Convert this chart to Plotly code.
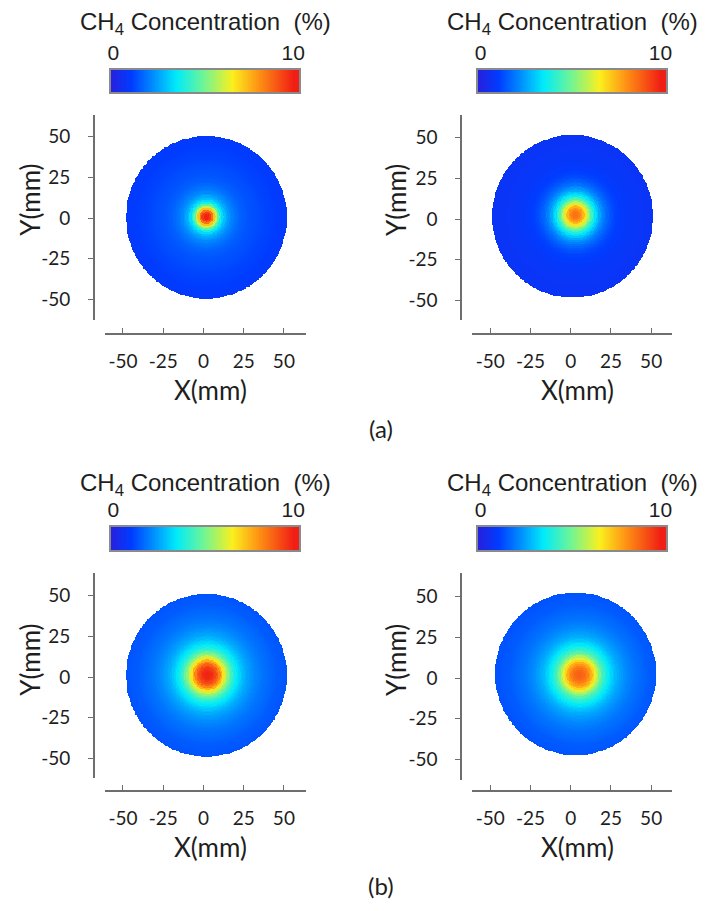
import numpy as np
import plotly.graph_objects as go

# ---------------------------------------------------------------
# CH4 concentration (%) along the radius from the jet axis,
# one value every 1.25 mm (r = 0 ... 50 mm), for the four cases
# ---------------------------------------------------------------
RADIUS_STEP_MM = 1.25

CONC_A_LEFT = [10.0, 9.9, 9.5, 8.6, 7.3, 6.0, 4.8, 3.9, 3.3, 2.9, 2.6,
               2.35, 2.15, 2.0, 1.85, 1.75, 1.65, 1.55, 1.5, 1.45, 1.4,
               1.35, 1.32, 1.3, 1.27, 1.24, 1.21, 1.18, 1.15, 1.12, 1.1,
               1.08, 1.06, 1.04, 1.02, 1.0, 0.98, 0.96, 0.94, 0.92, 0.9]
CONC_A_RIGHT = [8.6, 8.6, 8.4, 8.0, 7.5, 6.8, 6.0, 5.2, 4.5, 3.9, 3.4,
                3.0, 2.6, 2.3, 2.0, 1.8, 1.6, 1.45, 1.3, 1.2, 1.1,
                1.05, 1.0, 0.95, 0.9, 0.88, 0.85, 0.82, 0.8, 0.8, 0.8,
                0.78, 0.75, 0.75, 0.75, 0.72, 0.7, 0.7, 0.7, 0.7, 0.7]
CONC_B_LEFT = [9.9, 9.9, 9.8, 9.6, 9.3, 8.9, 8.3, 7.6, 6.8, 6.1, 5.4,
               4.9, 4.4, 4.0, 3.7, 3.45, 3.2, 3.0, 2.8, 2.65, 2.5,
               2.4, 2.3, 2.2, 2.1, 2.02, 1.95, 1.87, 1.8, 1.75, 1.7,
               1.65, 1.6, 1.55, 1.5, 1.47, 1.45, 1.42, 1.4, 1.37, 1.35]
CONC_B_RIGHT = [8.9, 8.9, 8.8, 8.6, 8.4, 8.0, 7.6, 7.0, 6.4, 5.8, 5.2,
                4.7, 4.3, 4.0, 3.7, 3.45, 3.2, 3.0, 2.8, 2.65, 2.5,
                2.4, 2.3, 2.2, 2.1, 2.02, 1.95, 1.87, 1.8, 1.75, 1.7,
                1.65, 1.6, 1.55, 1.5, 1.47, 1.45, 1.42, 1.4, 1.37, 1.35]

# jet axis (peak) and duct centre positions, mm
PEAK_XY = [(1.9, 0.6), (3.0, 2.4), (2.5, 1.2), (5.5, 1.8)]
DUCT_XY = [(1.9, 0.3), (1.2, 1.5), (1.9, 0.9), (3.1, 2.4)]
DUCT_RADIUS_MM = 50

AXIS_TICKS = [-50, -25, 0, 25, 50]
AXIS_TICK_TEXT = ["-50", "-25", "0", "25", "50"]
CBAR_MIN, CBAR_MAX = 0, 10

COLORSCALE = [
    [0.00, "rgb(35,35,225)"],
    [0.10, "rgb(0,60,255)"],
    [0.22, "rgb(0,140,255)"],
    [0.35, "rgb(0,235,250)"],
    [0.50, "rgb(110,245,150)"],
    [0.66, "rgb(250,240,30)"],
    [0.80, "rgb(255,150,20)"],
    [1.00, "rgb(240,30,20)"],
]

W, H = 706, 911


def fx(px):
    return px / W


def fy(px):
    return 1 - px / H


def section_field(profile, peak, duct, step=0.5):
    """Map the radial profile onto the duct cross-section."""
    g = np.arange(-56, 56 + step / 2, step)
    X, Y = np.meshgrid(g, g)
    r = np.hypot(X - peak[0], Y - peak[1])
    idx = np.clip(np.rint(r / RADIUS_STEP_MM).astype(int), 0, len(profile) - 1)
    z = np.asarray(profile, dtype=float)[idx]
    z[np.hypot(X - duct[0], Y - duct[1]) > DUCT_RADIUS_MM] = np.nan
    return g, z


profiles = [CONC_A_LEFT, CONC_A_RIGHT, CONC_B_LEFT, CONC_B_RIGHT]

# pixel layout of each panel
panels = [
    dict(xd=(103, 307), yd=(115, 320), x0=203, y0=218, xline=334, yline=92,
         cb=(109, 300), cby=(70, 92), ttl=(205, 24), xt=(210, 390), yt=(27, 200)),
    dict(xd=(475, 678), yd=(115, 320), x0=575, y0=219, xline=334, yline=464,
         cb=(481, 672), cby=(70, 92), ttl=(577, 24), xt=(582, 390), yt=(398, 200)),
    dict(xd=(103, 307), yd=(573, 778), x0=203, y0=677, xline=791, yline=92,
         cb=(109, 300), cby=(527, 550), ttl=(205, 484), xt=(210, 847), yt=(27, 660)),
    dict(xd=(475, 678), yd=(573, 780), x0=575, y0=678, xline=791, yline=464,
         cb=(481, 672), cby=(527, 550), ttl=(577, 484), xt=(582, 847), yt=(398, 660)),
]

PX_PER_MM = 1.63
AX_COLOR = "#6e6e6e"
TXT = "#1e1e1e"
TICK_FONT = dict(family="Lato", size=19, color=TXT)

fig = go.Figure()
layout = {}
annotations = []

for i, (p, prof) in enumerate(zip(panels, profiles)):
    ax_main = 2 * i + 1
    ax_bar = 2 * i + 2
    g, z = section_field(prof, PEAK_XY[i], DUCT_XY[i])
    fig.add_trace(go.Heatmap(
        x=g, y=g, z=z, colorscale=COLORSCALE, zmin=CBAR_MIN, zmax=CBAR_MAX,
        showscale=False, hoverinfo="skip", zsmooth=False,
        xaxis=f"x{ax_main}", yaxis=f"y{ax_main}"))

    xr = [(p["xd"][0] - p["x0"]) / PX_PER_MM, (p["xd"][1] - p["x0"]) / PX_PER_MM]
    yr = [(p["y0"] - p["yd"][1]) / PX_PER_MM, (p["y0"] - p["yd"][0]) / PX_PER_MM]

    layout[f"xaxis{ax_main}"] = dict(
        domain=[fx(p["xd"][0]), fx(p["xd"][1])], range=xr,
        anchor="free", position=fy(p["xline"]),
        showline=True, linecolor=AX_COLOR, linewidth=1.5,
        ticks="inside", ticklen=5, tickwidth=1.2, tickcolor=AX_COLOR,
        tickvals=AXIS_TICKS, ticktext=AXIS_TICK_TEXT, tickfont=TICK_FONT,
        ticklabelstandoff=10, showgrid=False, zeroline=False)
    layout[f"yaxis{ax_main}"] = dict(
        domain=[fy(p["yd"][1]), fy(p["yd"][0])], range=yr,
        anchor="free", position=fx(p["yline"]),
        showline=True, linecolor=AX_COLOR, linewidth=1.5,
        ticks="outside", ticklen=5, tickwidth=1.2, tickcolor=AX_COLOR,
        tickvals=AXIS_TICKS, ticktext=AXIS_TICK_TEXT, tickfont=TICK_FONT,
        ticklabelstandoff=14, showgrid=False, zeroline=False)

    # horizontal colour bar drawn as its own strip
    cb_lo, cb_hi = -0.15, 10.33
    n = 240
    dx = (cb_hi - cb_lo) / n
    centres = cb_lo + dx * (np.arange(n) + 0.5)
    fig.add_trace(go.Heatmap(
        x=centres, y=[0], z=[np.clip(centres, CBAR_MIN, CBAR_MAX)],
        colorscale=COLORSCALE, zmin=CBAR_MIN, zmax=CBAR_MAX,
        showscale=False, hoverinfo="skip",
        xaxis=f"x{ax_bar}", yaxis=f"y{ax_bar}"))
    layout[f"xaxis{ax_bar}"] = dict(
        domain=[fx(p["cb"][0]), fx(p["cb"][1])], range=[cb_lo, cb_hi],
        anchor=f"y{ax_bar}", side="top", ticks="",
        tickvals=[CBAR_MIN, CBAR_MAX], ticktext=[str(CBAR_MIN), str(CBAR_MAX)],
        tickfont=dict(family="Liberation Sans", size=21, color=TXT),
        ticklabelstandoff=0,
        showline=True, mirror=True, linecolor="#8a8a8a", linewidth=1.5,
        showgrid=False, zeroline=False)
    layout[f"yaxis{ax_bar}"] = dict(
        domain=[fy(p["cby"][1]), fy(p["cby"][0])], range=[-0.5, 0.5],
        anchor=f"x{ax_bar}", showticklabels=False, ticks="",
        showline=True, mirror=True, linecolor="#8a8a8a", linewidth=1.5,
        showgrid=False, zeroline=False)

    annotations.append(dict(
        text="CH<sub>4</sub> Concentration  (%)", x=fx(p["ttl"][0]), y=fy(p["ttl"][1]),
        xref="paper", yref="paper", xanchor="center", yanchor="middle",
        showarrow=False, font=dict(family="Liberation Sans", size=24, color=TXT)))
    annotations.append(dict(
        text="X(mm)", x=fx(p["xt"][0]), y=fy(p["xt"][1]), xref="paper", yref="paper",
        xanchor="center", yanchor="middle", showarrow=False,
        font=dict(family="Lato", size=26, color=TXT)))
    annotations.append(dict(
        text="Y(mm)", x=fx(p["yt"][0]), y=fy(p["yt"][1]), xref="paper", yref="paper",
        xanchor="center", yanchor="middle", showarrow=False, textangle=-90,
        font=dict(family="Lato", size=26, color=TXT)))

for label, ypx in [("(a)", 428), ("(b)", 885)]:
    annotations.append(dict(
        text=label, x=fx(383), y=fy(ypx), xref="paper", yref="paper",
        xanchor="center", yanchor="middle", showarrow=False,
        font=dict(family="Lato", size=24, color=TXT)))

fig.update_layout(
    width=W, height=H, margin=dict(l=0, r=0, t=0, b=0),
    paper_bgcolor="white", plot_bgcolor="rgba(0,0,0,0)",
    showlegend=False, annotations=annotations, **layout)

fig.write_html("out.html")
